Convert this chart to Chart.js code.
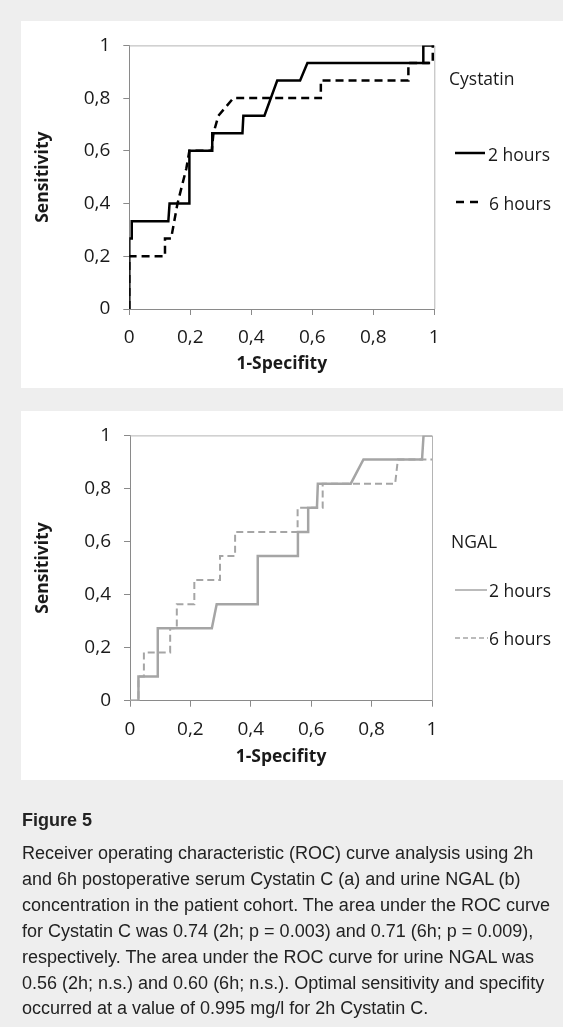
<!DOCTYPE html>
<html><head><meta charset="utf-8">
<script src="https://cdn.jsdelivr.net/npm/chart.js@4.4.1/dist/chart.umd.min.js"></script>
<style>
html,body{margin:0;padding:0;}
body{background:#eeeeee;width:563px;height:1027px;position:relative;overflow:hidden;font-family:"Open Sans",sans-serif;}
.panel{position:absolute;left:21px;width:542px;background:#fff;}
#p1{top:21px;height:367px;}
#p2{top:411px;height:369px;}
.panel canvas{position:absolute;left:0;top:0;}
.lg{position:absolute;font-family:"Open Sans",sans-serif;font-size:17.5px;color:#1a1a1a;line-height:20px;white-space:nowrap;transform:translateY(-50%);}
#lines{position:absolute;left:0;top:0;pointer-events:none;}
#cap{position:absolute;left:22px;top:807px;font-family:"Liberation Sans",Arial,sans-serif;color:#222;font-size:18px;white-space:nowrap;}
#cap .fig{font-weight:bold;line-height:26px;height:26px;margin-bottom:8px;}
#cap .txt{line-height:25.9px;}
</style></head>
<body>
<div class="panel" id="p1"><canvas id="c1" width="542" height="367"></canvas></div>
<div class="panel" id="p2"><canvas id="c2" width="542" height="369"></canvas></div>

<div class="lg" style="left:449px;top:78px;">Cystatin</div>
<div class="lg" style="left:488px;top:154px;">2 hours</div>
<div class="lg" style="left:489px;top:203px;">6 hours</div>
<div class="lg" style="left:451px;top:541px;">NGAL</div>
<div class="lg" style="left:489px;top:590px;">2 hours</div>
<div class="lg" style="left:489px;top:638px;">6 hours</div>
<svg id="lines" width="563" height="1027">
  <line x1="455" y1="153" x2="485" y2="153" stroke="#000" stroke-width="2.5"/>
  <line x1="456" y1="202" x2="482" y2="202" stroke="#000" stroke-width="2.5" stroke-dasharray="8 6"/>
  <line x1="455" y1="590" x2="487" y2="590" stroke="#a5a5a5" stroke-width="1.5"/>
  <line x1="455" y1="638" x2="488" y2="638" stroke="#a5a5a5" stroke-width="1.5" stroke-dasharray="5 3"/>
</svg>

<div id="cap">
<div class="fig">Figure 5</div>
<div class="txt">Receiver operating characteristic (ROC) curve analysis using 2h<br>and 6h postoperative serum Cystatin C (a) and urine NGAL (b)<br>concentration in the patient cohort. The area under the ROC curve<br>for Cystatin C was 0.74 (2h; p = 0.003) and 0.71 (6h; p = 0.009),<br>respectively. The area under the ROC curve for urine NGAL was<br>0.56 (2h; n.s.) and 0.60 (6h; n.s.). Optimal sensitivity and specifity<br>occurred at a value of 0.995 mg/l for 2h Cystatin C.</div>
</div>

<script>
// ---- Data ----
const xTickLabels = ['0', '0,2', '0,4', '0,6', '0,8', '1'];
const yTickLabels = ['0', '0,2', '0,4', '0,6', '0,8', '1'];

// Panel (a): Cystatin C
const cys2hX = [0, 0, 0.008, 0.008, 0.128, 0.132, 0.197, 0.197, 0.272, 0.272, 0.371, 0.374, 0.443, 0.485, 0.56, 0.584, 0.984, 0.964, 0.964, 1];
const cys2hY = [0, 0.267, 0.267, 0.333, 0.333, 0.4, 0.4, 0.6, 0.6, 0.667, 0.667, 0.733, 0.733, 0.867, 0.867, 0.933, 0.933, 0.933, 1, 1];
const cys6hX = [0, 0, 0.117, 0.117, 0.137, 0.158, 0.187, 0.197, 0.27, 0.276, 0.292, 0.341, 0.628, 0.628, 0.915, 0.915, 0.995, 0.995, 1];
const cys6hY = [0, 0.2, 0.2, 0.267, 0.267, 0.4, 0.533, 0.6, 0.6, 0.667, 0.733, 0.8, 0.8, 0.867, 0.867, 0.933, 0.933, 1, 1];

// Panel (b): NGAL
const ngal2hX = [0, 0.028, 0.028, 0.092, 0.092, 0.271, 0.287, 0.423, 0.423, 0.556, 0.556, 0.59, 0.59, 0.619, 0.622, 0.731, 0.773, 0.967, 0.972, 1];
const ngal2hY = [0, 0, 0.091, 0.091, 0.273, 0.273, 0.364, 0.364, 0.545, 0.545, 0.636, 0.636, 0.727, 0.727, 0.818, 0.818, 0.909, 0.909, 1, 1];
const ngal6hX = [0, 0.028, 0.028, 0.046, 0.046, 0.133, 0.133, 0.155, 0.155, 0.213, 0.213, 0.298, 0.298, 0.348, 0.348, 0.555, 0.555, 0.638, 0.638, 0.878, 0.887, 1];
const ngal6hY = [0, 0, 0.091, 0.091, 0.182, 0.182, 0.273, 0.273, 0.364, 0.364, 0.455, 0.455, 0.545, 0.545, 0.636, 0.636, 0.727, 0.727, 0.818, 0.818, 0.909, 0.909];

const seriesNames = ['2 hours', '6 hours'];
const xTitle = '1-Specifity';
const yTitle = 'Sensitivity';

function pts(xs, ys) { return xs.map((x, i) => ({x: x, y: ys[i]})); }

const frame = {
  id: 'frame',
  beforeDatasetsDraw(chart, args, opts) {
    const a = chart.chartArea, ctx = chart.ctx;
    ctx.save();
    ctx.strokeStyle = opts.color;
    ctx.lineWidth = 1;
    ctx.beginPath();
    ctx.moveTo(a.left, a.top + 0.5);
    ctx.lineTo(a.right + 0.5, a.top + 0.5);
    ctx.lineTo(a.right + 0.5, a.bottom);
    ctx.stroke();
    ctx.restore();
  }
};

function makeChart(id, datasets, cfg) {
  const tickFont = {family: 'Open Sans', size: 19};
  const titleFont = {family: 'Open Sans', size: 17.5, weight: 'bold'};
  return new Chart(document.getElementById(id), {
    type: 'scatter',
    data: {datasets: datasets},
    options: {
      responsive: false,
      animation: false,
      layout: {padding: {left: 0, top: cfg.top, right: cfg.right, bottom: 0}},
      plugins: {legend: {display: false}, tooltip: {enabled: false}, frame: {color: cfg.frameColor}},
      scales: {
        x: {
          type: 'linear', min: 0, max: 1,
          ticks: {stepSize: 0.2, padding: 11.5, maxRotation: 0, autoSkip: false, font: tickFont, color: '#1a1a1a',
                  callback: (v, i) => xTickLabels[i]},
          grid: {drawOnChartArea: false, drawTicks: true, tickLength: 6, tickColor: cfg.axisColor},
          border: {display: true, color: cfg.axisColor, width: 1},
          title: {display: true, text: xTitle, font: titleFont, color: '#1a1a1a', padding: {top: 0, bottom: cfg.xTitlePad}},
          afterFit: s => { s.height = cfg.xH; }
        },
        y: {
          type: 'linear', min: 0, max: 1,
          ticks: {stepSize: 0.2, padding: 13, autoSkip: false, font: tickFont, color: '#1a1a1a',
                  callback: (v, i) => yTickLabels[i]},
          grid: {drawOnChartArea: false, drawTicks: true, tickLength: 6, tickColor: cfg.axisColor},
          border: {display: true, color: cfg.axisColor, width: 1},
          title: {display: true, text: yTitle, font: titleFont, color: '#1a1a1a', padding: {top: 11.5, bottom: 0}},
          afterFit: s => { s.width = cfg.yW; }
        }
      }
    },
    plugins: [frame]
  });
}

function build() {
  makeChart('c1', [
    {label: seriesNames[0], data: pts(cys2hX, cys2hY), showLine: true, borderColor: '#000', borderWidth: 2.5, pointRadius: 0, tension: 0},
    {label: seriesNames[1], data: pts(cys6hX, cys6hY), showLine: true, borderColor: '#000', borderWidth: 2.5, borderDash: [8, 5], pointRadius: 0, tension: 0}
  ], {top: 21.3, right: 128.7, yW: 108.3, xH: 79, xTitlePad: 13.5, axisColor: '#8a8a8a', frameColor: '#b4b4b4'});

  makeChart('c2', [
    {label: seriesNames[0], data: pts(ngal2hX, ngal2hY), showLine: true, borderColor: '#a5a5a5', borderWidth: 2.5, pointRadius: 0, tension: 0},
    {label: seriesNames[1], data: pts(ngal6hX, ngal6hY), showLine: true, borderColor: '#a5a5a5', borderWidth: 2, borderDash: [7, 4], pointRadius: 0, tension: 0}
  ], {top: 21.7, right: 131, yW: 109, xH: 79.3, xTitlePad: 12.8, axisColor: '#8a8a8a', frameColor: '#b4b4b4'});
}
if (document.fonts && document.fonts.ready) { document.fonts.ready.then(build); } else { build(); }
</script>
</body></html>
